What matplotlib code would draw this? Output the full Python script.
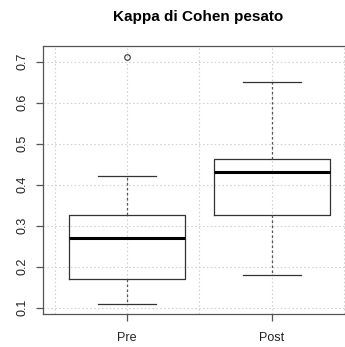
import matplotlib.pyplot as plt

# Weighted Cohen's kappa, before and after
groups = ['Pre', 'Post']
lower_whisker = [0.11, 0.18]
q1 = [0.17, 0.326]
median = [0.27, 0.43]
q3 = [0.326, 0.462]
upper_whisker = [0.42, 0.65]
outliers = [[0.71], []]

plt.rcParams['font.family'] = ['Liberation Sans', 'DejaVu Sans']

fig = plt.figure(figsize=(3.45, 3.47), dpi=100)
ax = fig.add_axes([0.1246, 0.0951, 0.9064, 0.7723])

stats = []
for i, g in enumerate(groups):
    stats.append(dict(label=g, whislo=lower_whisker[i], q1=q1[i], med=median[i],
                      q3=q3[i], whishi=upper_whisker[i], fliers=outliers[i]))

# grid first so boxes sit on top of it
for y in [0.1, 0.2, 0.3, 0.4, 0.5, 0.6, 0.7]:
    ax.axhline(y, color='#d3d3d3', lw=0.8, ls=(0, (1.5, 2)), zorder=0)
for x in [0.5, 1, 1.5, 2, 2.5]:
    ax.axvline(x, color='#d3d3d3', lw=0.8, ls=(0, (1.5, 2)), zorder=0)

ax.bxp(stats, positions=[1, 2], widths=0.8, showfliers=True,
       boxprops=dict(color='#333333', lw=0.9),
       medianprops=dict(color='black', lw=2.2),
       whiskerprops=dict(color='#555555', lw=0.9, ls=(0, (2, 2))),
       capprops=dict(color='#333333', lw=0.9),
       capwidths=0.4,
       flierprops=dict(marker='o', markersize=4, markerfacecolor='none',
                       markeredgecolor='#333333', markeredgewidth=0.8))

ax.set_xlim(0.42, 2.58)
ax.set_ylim(0.0846, 0.738)
ax.set_xticks([1, 2])
ax.set_xticklabels(groups, fontsize=9, color='#222222')
ax.set_yticks([0.1, 0.2, 0.3, 0.4, 0.5, 0.6, 0.7])
ax.set_yticklabels(['0.1', '0.2', '0.3', '0.4', '0.5', '0.6', '0.7'],
                   rotation=90, va='center', fontsize=9, color='#222222')
ax.tick_params(axis='both', length=5, width=0.9, color='#555555')
ax.tick_params(axis='x', pad=8)
ax.tick_params(axis='y', pad=5.5)
for s in ax.spines.values():
    s.set_color('#555555')
    s.set_linewidth(0.9)

fig.text(0.574, 0.951, 'Kappa di Cohen pesato', ha='center', va='center',
         fontsize=11, fontweight='bold')

fig.savefig('out.png', dpi=100)
